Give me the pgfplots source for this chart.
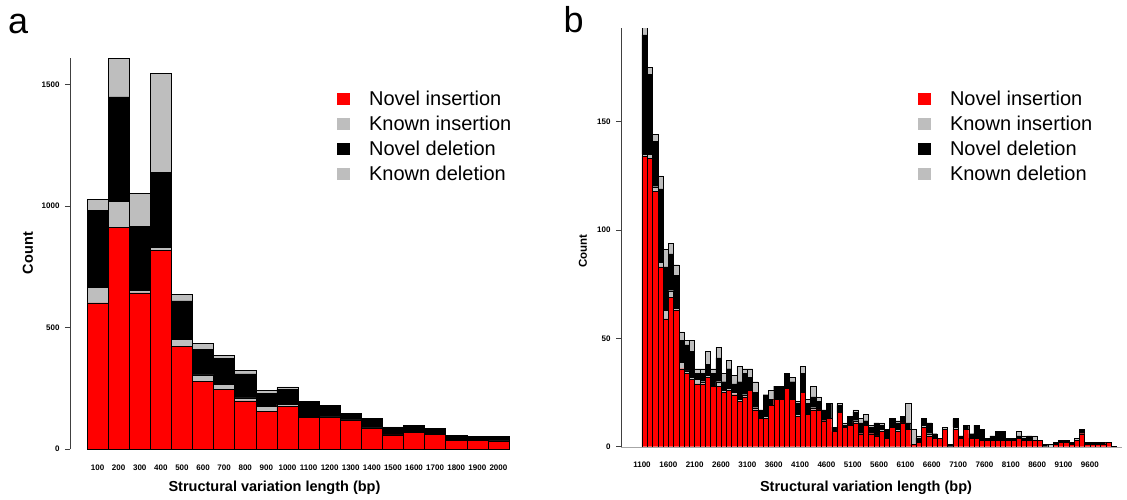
\documentclass[border=0pt]{standalone}
\usepackage{fontspec}
\setmainfont{Liberation Sans}
\usepackage{pgfplots}
\usepackage{pgfplotstable}
\pgfplotsset{compat=1.18}

\definecolor{novelins}{RGB}{255,0,0}
\definecolor{svgray}{RGB}{190,190,190}

% Panel a: 100 bp bins (100 ... 2000)
% columns: bin, novel insertion, known insertion, novel deletion, known deletion
\pgfplotstableread{
bin ni  ki  nd  kd
1   602 63  318 44
2   912 107 431 158
3   643 11  264 134
4   819 11  309 407
5   424 27  159 27
6   277 28  105 25
7   246 20  106 12
8   198 13  98  15
9   156 18  55  11
10  177 8   61  10
11  130 3   60  3
12  130 2   45  2
13  118 2   25  2
14  85  2   36  2
15  58  2   28  3
16  69  1   24  2
17  60  1   24  1
18  37  2   14  2
19  34  1   15  1
20  30  3   15  4
}\tablea

% Panel b: 100 bp bins from 1100 to 10000 (x = bin centre)
\pgfplotstableread{
x     ni  ki nd  kd
1150  134 1  55  4
1250  133 2  37  3
1350  118 2  21  3
1450  83  2  34  6
1550  59  4  20  8
1650  69  3  17  5
1750  63  1  15  5
1850  36  3  10  4
1950  34  1  12  2
2050  31  1  12  5
2150  29  2  3   2
2250  29  1  4   2
2350  32  1  5   6
2450  28  0  6   2
2550  28  2  11  5
2650  25  1  4   4
2750  26  1  9   4
2850  24  1  4   4
2950  21  1  8   7
3050  23  1  10  2
3150  26  0  6   4
3250  17  1  7   5
3350  13  0  4   0
3450  13  1  10  0
3550  19  0  3   4
3650  22  0  6   0
3750  22  0  6   0
3850  27  0  7   0
3950  22  0  8   2
4050  14  1  5   1
4150  25  0  9   3
4250  15  0  5   2
4350  17  1  5   5
4450  17  0  4   2
4550  12  0  5   0
4650  13  0  7   0
4750  7   0  2   0
4850  16  0  3   1
4950  9   0  1   1
5050  10  0  4   0
5150  11  1  4   1
5250  6   0  5   2
5350  10  0  2   3
5450  6   0  3   1
5550  5   0  6   0
5650  7   1  2   1
5750  4   0  4   0
5850  9   0  4   0
5950  7   1  3   1
6050  11  0  3   0
6150  8   0  3   9
6250  1   0  0   7
6350  2   0  2   1
6450  9   1  3   0
6550  5   1  5   0
6650  4   0  2   0
6750  4   0  0   0
6850  8   0  0   1
6950  0   0  1   0
7050  8   1  4   0
7150  4   0  1   0
7250  8   0  2   0
7350  4   0  2   0
7450  4   0  6   0
7550  3   0  5   0
7650  3   0  1   0
7750  3   0  2   0
7850  3   0  4   0
7950  3   0  4   0
8050  3   0  1   0
8150  3   0  1   0
8250  4   0  1   2
8350  3   0  1   1
8450  3   0  2   0
8550  3   0  0   2
8650  3   0  0   0
8750  0   0  1   0
8850  0   0  0   1
8950  1   0  1   0
9050  2   0  1   0
9150  2   0  1   0
9250  1   0  1   0
9350  3   0  0   1
9450  6   0  2   0
9550  1   0  1   0
9650  1   0  1   0
9750  1   0  1   0
9850  1   0  1   0
9950  2   0  0   0
10050 0   0  0.3 0
}\tableb

\pgfplotsset{
  svbase/.style={
    scale only axis,
    ybar stacked,
    ymin=0,
    axis y line*=left,
    axis x line*=bottom,
    x axis line style={draw=none},
    xtick style={draw=none},
    tick align=outside,
    y axis line style={black!75, line width=0.6pt},
    ytick style={black!75, line width=0.6pt},
    major tick length=5pt,
    scaled x ticks=false,
    scaled y ticks=false,
    /pgf/number format/assume math mode=true,
    /pgf/number format/1000 sep={},
    tick label style={font=\fontsize{8}{8}\selectfont\bfseries},
    xticklabel style={yshift=-7pt},
    yticklabel style={xshift=-2pt},
    label style={font=\fontsize{14.5}{14.5}\selectfont\bfseries},
    legend cell align=left,
    legend style={draw=none, fill=none, inner sep=0pt,
      font=\fontsize{20}{20}\selectfont,
      row sep=4.8pt,
      /tikz/column sep=17pt},
    legend image code/.code={\path[#1, draw=none] (0pt,-6pt) rectangle (13pt,6pt);},
  },
  segni/.style={fill=novelins, draw=black},
  segki/.style={fill=svgray, draw=black},
  segnd/.style={fill=black, draw=black},
  segkd/.style={fill=svgray, draw=black},
}

\begin{document}
\begin{tikzpicture}
\useasboundingbox (0pt,0pt) rectangle (1127pt,499pt);

% ---------------- panel a ----------------
\begin{axis}[
  svbase,
  at={(70pt,50pt)}, anchor=south west,
  width=441.1pt, height=391pt,
  bar width=1,
  xmin=-0.306, xmax=20.6, ymax=1610,
  xtick={1,...,20},
  xticklabels={100,200,300,400,500,600,700,800,900,1000,1100,1200,1300,1400,1500,1600,1700,1800,1900,2000},
  ytick={0,500,1000,1500},
  every axis plot/.append style={line width=0.5pt},
  xlabel={Structural variation length (bp)},
  ylabel={Count},
  xlabel style={at={(axis description cs:0.4636,0)}, anchor=center, yshift=-39pt},
  ylabel style={at={(axis description cs:0,0.501)}, anchor=center, yshift=42pt},
  legend style={at={(axis description cs:0.605,0.92)}, anchor=north west},
]
\addplot[segni] table[x=bin, y=ni] {\tablea};
\addplot[segki] table[x=bin, y=ki] {\tablea};
\addplot[segnd] table[x=bin, y=nd] {\tablea};
\addplot[segkd] table[x=bin, y=kd] {\tablea};
\legend{Novel insertion, Known insertion, Novel deletion, Known deletion}
\end{axis}

% ---------------- panel b ----------------
\begin{axis}[
  svbase,
  at={(621pt,52.3pt)}, anchor=south west,
  width=500.5pt, height=418.2pt,
  bar width=100,
  xmin=702, xmax=10200, ymax=193,
  x axis line style={draw=black!35, line width=0.4pt},
  xtick={1100,1600,2100,2600,3100,3600,4100,4600,5100,5600,6100,6600,7100,7600,8100,8600,9100,9600},
  xticklabels={1100,1600,2100,2600,3100,3600,4100,4600,5100,5600,6100,6600,7100,7600,8100,8600,9100,9600},
  ytick={0,50,100,150},
  every axis plot/.append style={line width=0.35pt},
  xlabel={Structural variation length (bp)},
  ylabel={Count},
  xlabel style={at={(axis description cs:0.4895,0)}, anchor=center, yshift=-41pt},
  ylabel style={at={(axis description cs:0,0.468)}, anchor=center, yshift=38pt,
    font=\fontsize{11.5}{11.5}\selectfont\bfseries},
  legend style={at={(axis description cs:0.593,0.855)}, anchor=north west},
]
\addplot[segni] table[x=x, y=ni] {\tableb};
\addplot[segki] table[x=x, y=ki] {\tableb};
\addplot[segnd] table[x=x, y=nd] {\tableb};
\addplot[segkd] table[x=x, y=kd] {\tableb};
\legend{Novel insertion, Known insertion, Novel deletion, Known deletion}
\end{axis}

% panel letters
\node[anchor=base west, inner sep=0pt, font=\fontsize{36}{36}\selectfont] at (8pt,465pt) {a};
\node[anchor=base west, inner sep=0pt, font=\fontsize{36}{36}\selectfont] at (563.5pt,466pt) {b};
\end{tikzpicture}
\end{document}
